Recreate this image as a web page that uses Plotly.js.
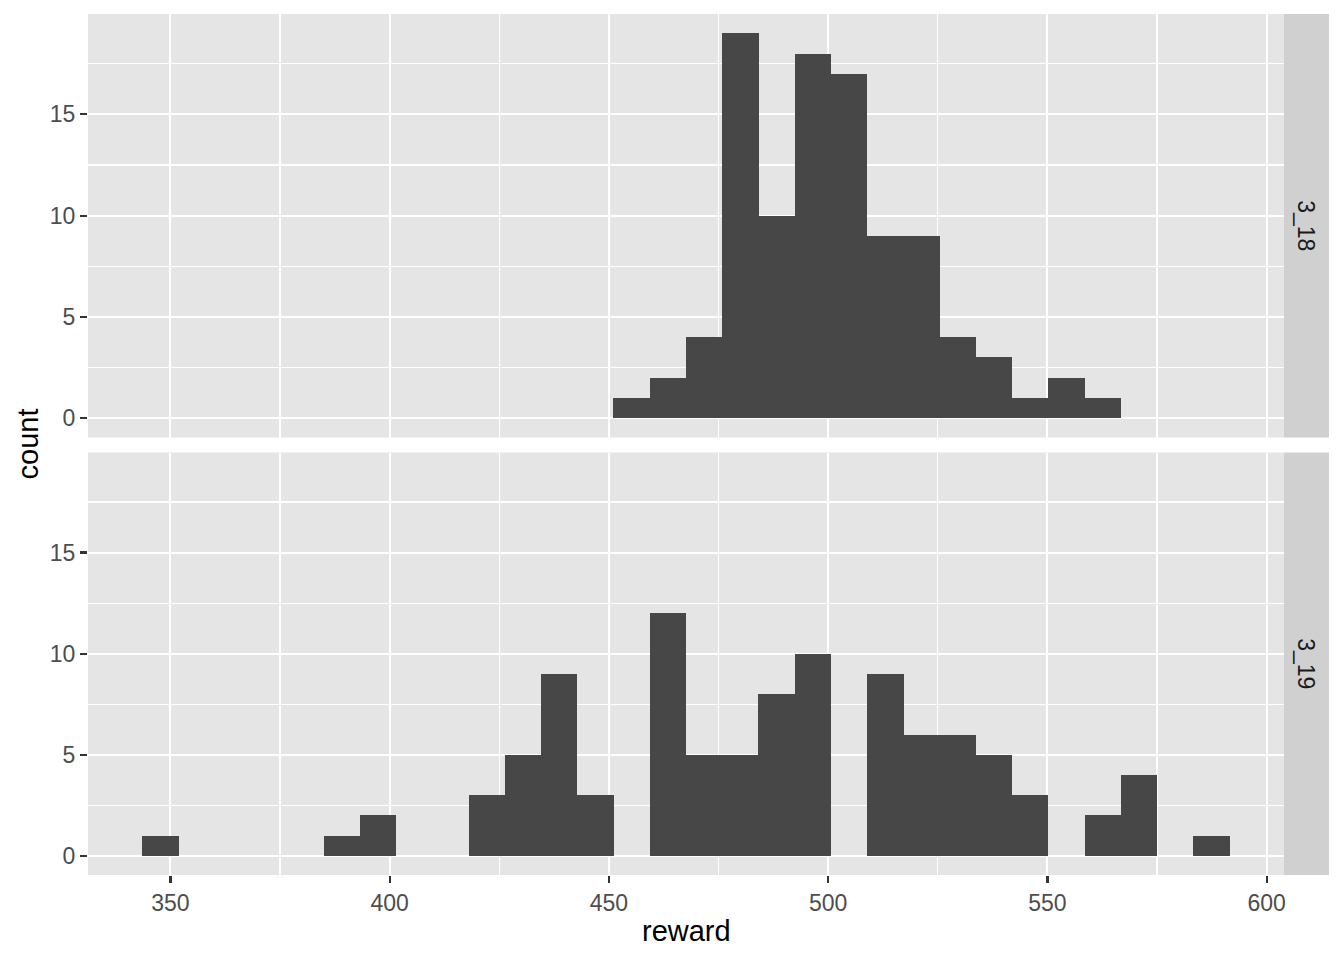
<!DOCTYPE html>
<html>
<head>
<meta charset="utf-8">
<script src="https://cdn.plot.ly/plotly-3.0.1.min.js"></script>
<style>body{margin:0;padding:0;background:#fff;} #chart{width:1344px;height:960px;}</style>
</head>
<body>
<div id="chart"></div>
<script>
// Bin centers (reward) of the 30-bin histogram
const binCenters = [347.74, 356.00, 364.27, 372.54, 380.80, 389.07, 397.33, 405.60, 413.86, 422.13,
                    430.39, 438.66, 446.92, 455.19, 463.45, 471.72, 479.98, 488.25, 496.51, 504.78,
                    513.04, 521.31, 529.57, 537.84, 546.10, 554.37, 562.63, 570.90, 579.16, 587.43];
const binWidth = 8.265;
// Counts per bin, facet 3_18
const counts_3_18 = [0, 0, 0, 0, 0, 0, 0, 0, 0, 0,
                     0, 0, 0, 1, 2, 4, 19, 10, 18, 17,
                     9, 9, 4, 3, 1, 2, 1, 0, 0, 0];
// Counts per bin, facet 3_19
const counts_3_19 = [1, 0, 0, 0, 0, 1, 2, 0, 0, 3,
                     5, 9, 3, 0, 12, 5, 5, 8, 10, 0,
                     9, 6, 6, 5, 3, 0, 2, 4, 0, 1];
const facetLabels = ["3_18", "3_19"];
const xTicks = [350, 400, 450, 500, 550, 600];
const yTicks = [0, 5, 10, 15];

const barColor = '#474747';
const fontFam = '"Liberation Sans", Arial, Helvetica, sans-serif';

function barTrace(y, xa, ya) {
  return {
    type: 'bar', x: binCenters, y: y, width: binWidth * 1.004,
    marker: {color: barColor, line: {width: 0}},
    xaxis: xa, yaxis: ya, showlegend: false, hoverinfo: 'x+y'
  };
}

const data = [barTrace(counts_3_18, 'x2', 'y2'), barTrace(counts_3_19, 'x', 'y')];

const xRange = [331.2, 603.96];
const yRange = [-0.95, 19.95];
const axisCommon = {
  showgrid: true, gridcolor: '#FFFFFF', gridwidth: 2.1,
  zeroline: false, showline: false,
  tickfont: {family: fontFam, size: 23, color: '#4D4D4D'},
};
const yCommon = Object.assign({}, axisCommon, {
  range: yRange, tickmode: 'array', tickvals: yTicks, ticktext: yTicks.map(String),
  ticks: 'outside', ticklen: 7, tickwidth: 2.2, tickcolor: '#333333',
  minor: {tickmode: 'array', tickvals: [2.5, 7.5, 12.5, 17.5], showgrid: true, gridcolor: '#FFFFFF', gridwidth: 1.1, ticks: ''}
});
const xMinor = {tickmode: 'array', tickvals: [375, 425, 475, 525, 575], showgrid: true, gridcolor: '#FFFFFF', gridwidth: 1.1, ticks: ''};

const H = 861; // plot area height
const layout = {
  width: 1344, height: 960,
  margin: {l: 88, r: 60, t: 14, b: 85, pad: 0},
  paper_bgcolor: '#FFFFFF', plot_bgcolor: '#E5E5E5',
  bargap: 0,
  xaxis: Object.assign({}, axisCommon, {
    domain: [0, 1], anchor: 'y', range: xRange,
    tickmode: 'array', tickvals: xTicks, ticktext: xTicks.map(String),
    ticks: 'outside', ticklen: 7, tickwidth: 2.2, tickcolor: '#333333',
    minor: xMinor
  }),
  yaxis: Object.assign({}, yCommon, {domain: [0, (875 - 452.5) / H], anchor: 'x'}),
  xaxis2: Object.assign({}, axisCommon, {
    domain: [0, 1], anchor: 'y2', range: xRange, matches: 'x',
    tickmode: 'array', tickvals: xTicks, showticklabels: false, ticks: '',
    minor: xMinor
  }),
  yaxis2: Object.assign({}, yCommon, {domain: [(875 - 437.5) / H, 1], anchor: 'x2'}),
  shapes: [
    {type: 'rect', xref: 'paper', yref: 'paper', x0: 1, x1: 1 + 45 / 1196,
     y0: (875 - 437.5) / H, y1: 1, fillcolor: '#D0D0D0', line: {width: 0}, layer: 'below'},
    {type: 'rect', xref: 'paper', yref: 'paper', x0: 1, x1: 1 + 45 / 1196,
     y0: 0, y1: (875 - 452.5) / H, fillcolor: '#D0D0D0', line: {width: 0}, layer: 'below'}
  ],
  annotations: [
    {text: facetLabels[0], xref: 'paper', yref: 'paper', x: 1 + 22.5 / 1196, y: (1 + (875 - 437.5) / H) / 2,
     showarrow: false, textangle: 90, xanchor: 'center', yanchor: 'middle',
     font: {family: fontFam, size: 23, color: '#1A1A1A'}},
    {text: facetLabels[1], xref: 'paper', yref: 'paper', x: 1 + 22.5 / 1196, y: ((875 - 452.5) / H) / 2,
     showarrow: false, textangle: 90, xanchor: 'center', yanchor: 'middle',
     font: {family: fontFam, size: 23, color: '#1A1A1A'}},
    {text: 'reward', xref: 'paper', yref: 'paper', x: 0.5, y: -(931 - 875) / H,
     showarrow: false, xanchor: 'center', yanchor: 'middle',
     font: {family: fontFam, size: 29, color: '#000000'}},
    {text: 'count', xref: 'paper', yref: 'paper', x: -(88 - 27) / 1196, y: 0.5,
     showarrow: false, textangle: -90, xanchor: 'center', yanchor: 'middle',
     font: {family: fontFam, size: 29, color: '#000000'}}
  ]
};

Plotly.newPlot('chart', data, layout, {displayModeBar: false, staticPlot: true});
</script>
</body>
</html>
